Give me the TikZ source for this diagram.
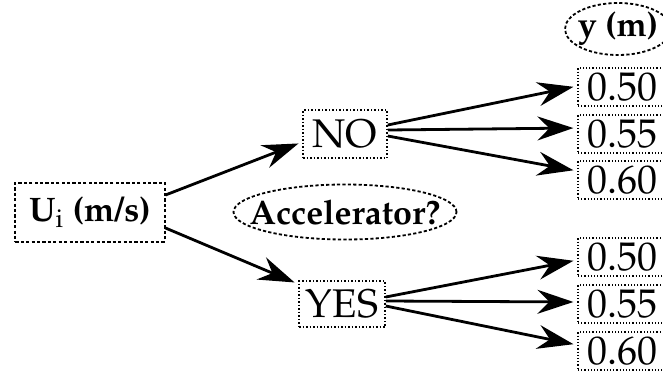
\documentclass[tikz,border=0pt]{standalone}
\usepackage[T1]{fontenc}
\usepackage{mathpazo}
\usetikzlibrary{arrows.meta,positioning,shapes.geometric}

\begin{document}
\begin{tikzpicture}[node distance=2cm,on grid,
    font=\fontsize{20}{22}\selectfont,
    inbox/.style={draw,dash pattern=on 1.6pt off 1.1pt,line width=1pt,inner sep=0pt,
      minimum width=74.5pt,minimum height=29.5pt,font=\fontsize{17}{20}\selectfont\bfseries},
    choice/.style={draw,densely dotted,line width=0.75pt,inner sep=0pt,
      minimum width=42pt,minimum height=24pt},
    outbox/.style={draw,densely dotted,line width=0.6pt,inner sep=0pt,
      minimum width=44pt,minimum height=19pt},
    tag/.style={draw,ellipse,dash pattern=on 1.6pt off 1.1pt,line width=0.9pt,
      inner xsep=-30pt,inner ysep=-20pt,font=\fontsize{17}{20}\selectfont\bfseries},
    branch/.style={-{Stealth[length=18pt,width=12pt,inset=6pt]},line width=1.4pt,shorten >=2pt}]
    \useasboundingbox (-45pt,-79pt) rectangle (286.5pt,106pt);

    \node[inbox]  (ui)  {U$_{\mathrm{i}}$ (m/s)};
    \node[choice] (no)  [above right=39pt and 127.5pt of ui] {NO};
    \node[choice,minimum width=43pt,minimum height=23pt]
                  (yes) [below right=46pt and 126pt of ui]   {YES};
    \node[tag,minimum width=111.5pt,minimum height=27.5pt]
                  (acc) [right=127.5pt of ui]                {Accelerator?};
    \node[tag,minimum width=53pt,minimum height=26pt]
                  (ym)  [above right=91.5pt and 264pt of ui] {y (m)};

    \node[outbox] (no2) [right=138.5pt of no] {0.55};
    \node[outbox] (no1) [above=23.5pt of no2] {0.50};
    \node[outbox] (no3) [below=23pt of no2]   {0.60};

    \node[outbox] (yes2) [right=140pt of yes] {0.55};
    \node[outbox] (yes1) [above=23.5pt of yes2] {0.50};
    \node[outbox] (yes3) [below=23.5pt of yes2] {0.60};

    \draw[branch] ([yshift=8.5pt]ui.east) -- ([yshift=-4pt]no.west);
    \draw[branch] ([yshift=-8pt]ui.east)  -- ([yshift=10pt]yes.west);

    \draw[branch] ([yshift=4.5pt]no.east) -- ([yshift=0.5pt]no1.west);
    \draw[branch] ([yshift=2pt]no.east)   -- ([yshift=3pt]no2.west);
    \draw[branch] ([yshift=-1pt]no.east)  -- ([yshift=4.5pt]no3.west);

    \draw[branch] ([yshift=3.5pt]yes.east) -- ([yshift=-1.5pt]yes1.west);
    \draw[branch] ([yshift=1.5pt]yes.east) -- ([yshift=1pt]yes2.west);
    \draw[branch] ([yshift=-1pt]yes.east)  -- ([yshift=3pt]yes3.west);
\end{tikzpicture}
\end{document}
